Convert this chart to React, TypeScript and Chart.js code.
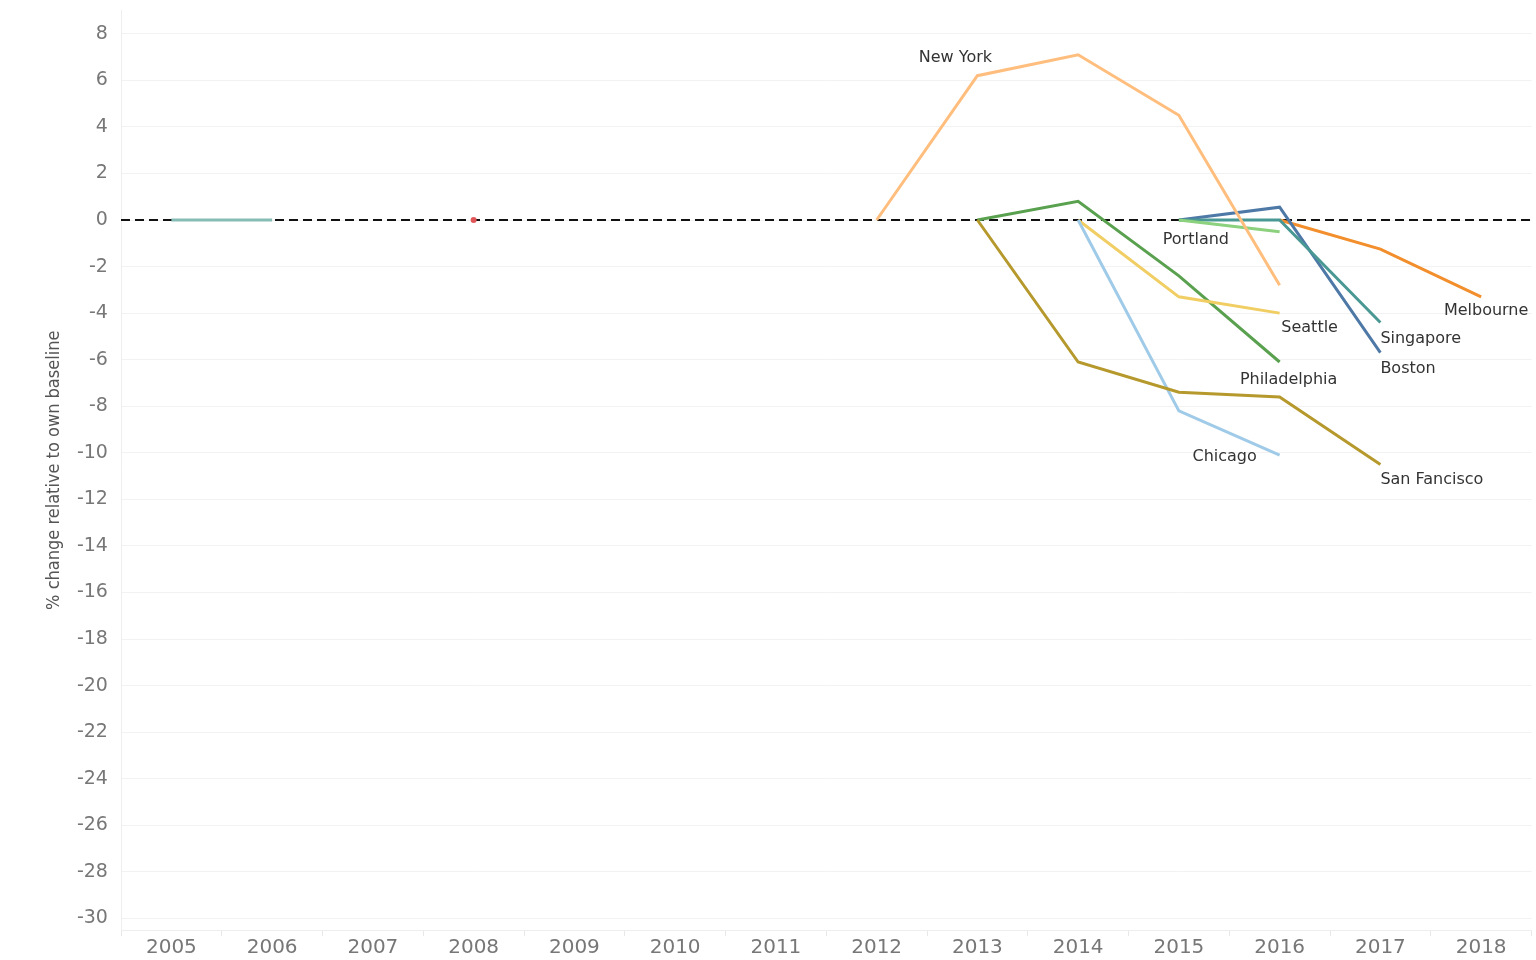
import React, { useEffect, useRef } from "react";
import { Chart, registerables } from "chart.js";

Chart.register(...registerables);

const years = ["2005","2006","2007","2008","2009","2010","2011","2012","2013","2014","2015","2016","2017","2018"];
const yTicks = [8,6,4,2,0,-2,-4,-6,-8,-10,-12,-14,-16,-18,-20,-22,-24,-26,-28,-30];

type V = number | null;
const _ = null;
const earlyTeal: V[] =   [0, 0, _, _, _, _, _, _, _, _, _, _, _, _];
const earlyRed: V[] =    [_, _, _, 0, _, _, _, _, _, _, _, _, _, _];
const newYork: V[] =     [_, _, _, _, _, _, _, 0, 6.2, 7.1, 4.5, -2.8, _, _];
const philadelphia: V[] =[_, _, _, _, _, _, _, _, 0, 0.8, -2.4, -6.1, _, _];
const sanFrancisco: V[] =[_, _, _, _, _, _, _, _, 0, -6.1, -7.4, -7.6, -10.5, _];
const seattle: V[] =     [_, _, _, _, _, _, _, _, _, 0, -3.3, -4.0, _, _];
const chicago: V[] =     [_, _, _, _, _, _, _, _, _, 0, -8.2, -10.1, _, _];
const portland: V[] =    [_, _, _, _, _, _, _, _, _, _, 0, -0.5, _, _];
const singapore: V[] =   [_, _, _, _, _, _, _, _, _, _, 0, 0, -4.4, _];
const boston: V[] =      [_, _, _, _, _, _, _, _, _, _, 0, 0.55, -5.7, _];
const melbourne: V[] =   [_, _, _, _, _, _, _, _, _, _, _, 0, -1.25, -3.3];

const labels: { name: string; data: V[]; idx: number; dx: number; dy: number; align: CanvasTextAlign }[] = [
  { name: "New York", data: newYork, idx: 8, dx: -22, dy: -18, align: "center" },
  { name: "Portland", data: portland, idx: 10, dx: 17, dy: 20, align: "center" },
  { name: "Seattle", data: seattle, idx: 11, dx: 30, dy: 15, align: "center" },
  { name: "Philadelphia", data: philadelphia, idx: 11, dx: 9, dy: 18, align: "center" },
  { name: "Chicago", data: chicago, idx: 11, dx: -55, dy: 2, align: "center" },
  { name: "San Fancisco", data: sanFrancisco, idx: 12, dx: 0, dy: 15, align: "left" },
  { name: "Singapore", data: singapore, idx: 12, dx: 0, dy: 16, align: "left" },
  { name: "Boston", data: boston, idx: 12, dx: 0, dy: 16, align: "left" },
  { name: "Melbourne", data: melbourne, idx: 13, dx: 5, dy: 14, align: "center" },
];

const zeroLinePlugin = {
  id: "zeroLine",
  beforeDatasetsDraw(chart: any) {
    const { ctx, chartArea, scales } = chart;
    const y = scales.y.getPixelForValue(0);
    ctx.save();
    ctx.strokeStyle = "#111";
    ctx.lineWidth = 2;
    ctx.setLineDash([9, 5]);
    ctx.beginPath();
    ctx.moveTo(chartArea.left, y);
    ctx.lineTo(chartArea.right, y);
    ctx.stroke();
    ctx.restore();
  },
  afterDatasetsDraw(chart: any) {
    const { ctx, scales } = chart;
    ctx.save();
    ctx.font = '16px "DejaVu Sans", sans-serif';
    ctx.fillStyle = "#333";
    ctx.textBaseline = "middle";
    for (const l of labels) {
      const v = l.data[l.idx];
      if (v == null) continue;
      const x = scales.x.getPixelForValue(l.idx);
      const y = scales.y.getPixelForValue(v);
      ctx.textAlign = l.align;
      ctx.fillText(l.name, x + l.dx, y + l.dy);
    }
    ctx.restore();
  },
};

function ds(label: string, data: V[], color: string, extra: any = {}) {
  return {
    label,
    data,
    borderColor: color,
    backgroundColor: color,
    borderWidth: 3,
    pointRadius: 0,
    pointHoverRadius: 0,
    spanGaps: false,
    tension: 0,
    ...extra,
  };
}

export default function App() {
  const ref = useRef<HTMLCanvasElement>(null);
  useEffect(() => {
    document.body.style.margin = "0";
    const chart = new Chart(ref.current!, {
      type: "line",
      data: {
        labels: years,
        datasets: [
          ds("early", earlyTeal, "#86BCB6"),
          ds("red", earlyRed, "#E15759", { pointRadius: 1.5 }),
          ds("New York", newYork, "#FFBE7D"),
          ds("San Francisco", sanFrancisco, "#B6992D"),
          ds("Chicago", chicago, "#A0CBE8"),
          ds("Seattle", seattle, "#F1CE63"),
          ds("Philadelphia", philadelphia, "#59A14F"),
          ds("Portland", portland, "#8CD17D"),
          ds("Singapore", singapore, "#499894"),
          ds("Boston", boston, "#4E79A7"),
          ds("Melbourne", melbourne, "#F28E2B"),
        ],
      },
      options: {
        animation: false,
        responsive: false,
        maintainAspectRatio: false,
        layout: { padding: { top: 0, right: 0, bottom: 0, left: 0 } },
        plugins: { legend: { display: false }, tooltip: { enabled: false } },
        scales: {
          x: {
            offset: true,
            grid: { offset: true, drawOnChartArea: false, drawTicks: true, tickLength: 6, color: "#e8e8e8" },
            border: { color: "#eeeeee" },
            ticks: { color: "#777", font: { size: 20, family: '"DejaVu Sans", sans-serif', lineHeight: 1 }, padding: 2, maxRotation: 0, autoSkip: false },
            afterFit(scale: any) { scale.height = 30; },
          },
          y: {
            min: -30.5,
            max: 9,
            grid: { color: "#f2f2f2", drawTicks: false },
            border: { color: "#eeeeee" },
            ticks: {
              stepSize: 2,
              includeBounds: false,
              color: "#777",
              padding: 1,
              font: { size: 19, family: '"DejaVu Sans", sans-serif', lineHeight: 1 },
              callback: (v: any) => `${v}  `,
            },
            afterBuildTicks(scale: any) {
              scale.ticks = yTicks.map((v) => ({ value: v }));
            },
            title: {
              display: true,
              text: "% change relative to own baseline",
              color: "#555",
              font: { size: 18, family: '"Liberation Sans Narrow", "DejaVu Sans Condensed", "Noto Sans", sans-serif' },
              padding: { top: 44, bottom: 0 },
            },
            afterFit(scale: any) { scale.width = 121; },
          },
        },
      },
      plugins: [zeroLinePlugin],
    });
    return () => chart.destroy();
  }, []);
  return (
    <div style={{ position: "absolute", left: 0, top: 0, width: 1536, height: 960, background: "#fff" }}>
      <canvas ref={ref} width={1536} height={960} style={{ width: 1536, height: 960 }} />
    </div>
  );
}
